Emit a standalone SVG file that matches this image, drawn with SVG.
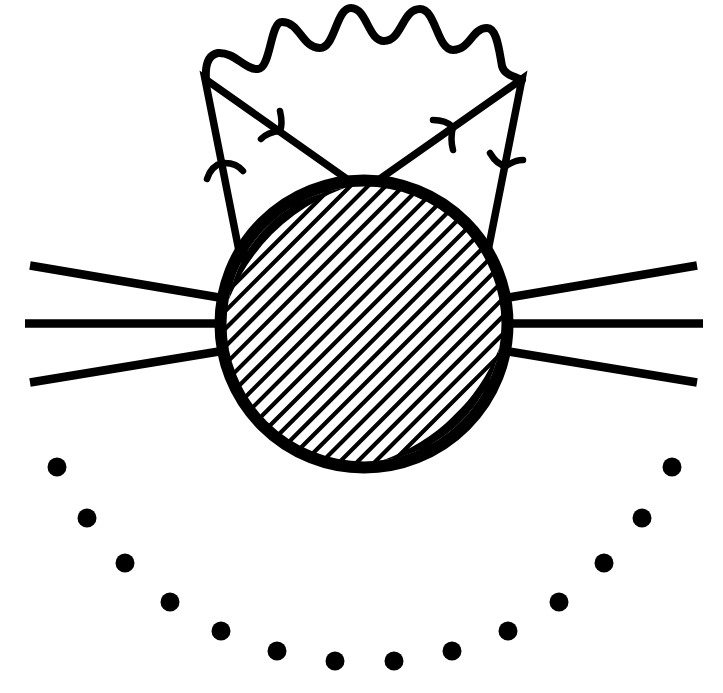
<svg xmlns="http://www.w3.org/2000/svg" width="723" height="693" viewBox="0 0 723 693">
  <defs>
    <clipPath id="inner">
      <circle cx="364" cy="324" r="140"/>
    </clipPath>
  </defs>
  <style>
    .ln { fill: none; stroke: #000; stroke-width: 8.5; }
    .fer { fill: none; stroke: #000; stroke-width: 7.5; stroke-linejoin: miter; stroke-miterlimit: 10; }
    .arr { fill: none; stroke: #000; stroke-width: 6.5; stroke-linecap: round; stroke-linejoin: round; }
    .wave { fill: none; stroke: #000; stroke-width: 8; stroke-linecap: round; stroke-linejoin: round; }
    .hatch { fill: none; stroke: #000; stroke-width: 4.2; }
    .dot { fill: #000; }
  </style>
  <rect width="723" height="693" fill="#fff"/>
  <g id="connectors">
    <g id="external-left">
      <line class="ln" x1="30" y1="265.5" x2="225" y2="298.5"/>
      <line class="ln" x1="25" y1="323.5" x2="225" y2="323.5"/>
      <line class="ln" x1="30" y1="382.5" x2="225" y2="350.5"/>
    </g>
    <g id="external-right">
      <line class="ln" x1="697" y1="265.5" x2="503" y2="298.5"/>
      <line class="ln" x1="703" y1="323.5" x2="503" y2="323.5"/>
      <line class="ln" x1="697" y1="382.5" x2="503" y2="350.5"/>
    </g>
    <g id="fermion-left">
      <path class="fer" d="M240,256 L205,79 L354,184"/>
      <path class="arr" d="M207,179 Q211,166 222,163 Q236,162 243,171"/>
      <path class="arr" d="M280,111 Q283,124 280,131 Q268,132 261,139"/>
    </g>
    <g id="fermion-right">
      <path class="fer" d="M487,256 L522,79 L374,183"/>
      <path class="arr" d="M490,153 Q497,165 506,166 Q515,160 523,160"/>
      <path class="arr" d="M433,120 Q446,120 453,127 Q450,139 453,150"/>
    </g>
    <g id="photon">
      <path class="wave" d="M206,80 C205,66 207,55 218,53 C235,52 245,70 258,69 C271,68 270,22 282,22 C300,22 302,48 320,48 C335,48 336,8 351,8 C367,8 368,41 384,41 C402,41 402,9 420,9 C436,9 437,50 453,50 C470,50 472,28 487,28 C497,28 499,50 502,66 C504,74 512,76 522,80"/>
    </g>
  </g>
  <g id="blob">
    <circle cx="364" cy="324" r="140" fill="#fff"/>
    <path class="hatch" clip-path="url(#inner)" d="M150,351 l430,-430 M150,368.7 l430,-430 M150,386.4 l430,-430 M150,404 l430,-430 M150,421.7 l430,-430 M150,439.4 l430,-430 M150,457.1 l430,-430 M150,474.8 l430,-430 M150,492.4 l430,-430 M150,510.1 l430,-430 M150,527.8 l430,-430 M150,545.5 l430,-430 M150,563.2 l430,-430 M150,580.8 l430,-430 M150,598.5 l430,-430 M150,616.2 l430,-430 M150,633.9 l430,-430 M150,651.6 l430,-430 M150,669.2 l430,-430 M150,686.9 l430,-430 M150,704.6 l430,-430 M150,722.3 l430,-430 M150,740 l430,-430"/>
    <path fill="#000" d="M228.6,300.1 A137.5,137.5 0 0 1 344.9,187.8 Q262.65,219.2 228.6,300.1 Z"/>
    <path fill="#000" d="M499.4,347.9 A137.5,137.5 0 0 1 383.1,460.2 Q465.35,428.8 499.4,347.9 Z"/>
    <circle cx="364" cy="324" r="143.5" fill="none" stroke="#000" stroke-width="12"/>
  </g>
  <g id="dots">
    <circle class="dot" cx="57" cy="467" r="9.5"/>
    <circle class="dot" cx="87" cy="518" r="9.5"/>
    <circle class="dot" cx="125" cy="563" r="9.5"/>
    <circle class="dot" cx="170" cy="602" r="9.5"/>
    <circle class="dot" cx="221" cy="631" r="9.5"/>
    <circle class="dot" cx="277" cy="651" r="9.5"/>
    <circle class="dot" cx="335" cy="661" r="9.5"/>
    <circle class="dot" cx="394" cy="661" r="9.5"/>
    <circle class="dot" cx="452" cy="651" r="9.5"/>
    <circle class="dot" cx="508" cy="631" r="9.5"/>
    <circle class="dot" cx="559" cy="602" r="9.5"/>
    <circle class="dot" cx="604" cy="563" r="9.5"/>
    <circle class="dot" cx="642" cy="518" r="9.5"/>
    <circle class="dot" cx="672" cy="467" r="9.5"/>
  </g>
</svg>
